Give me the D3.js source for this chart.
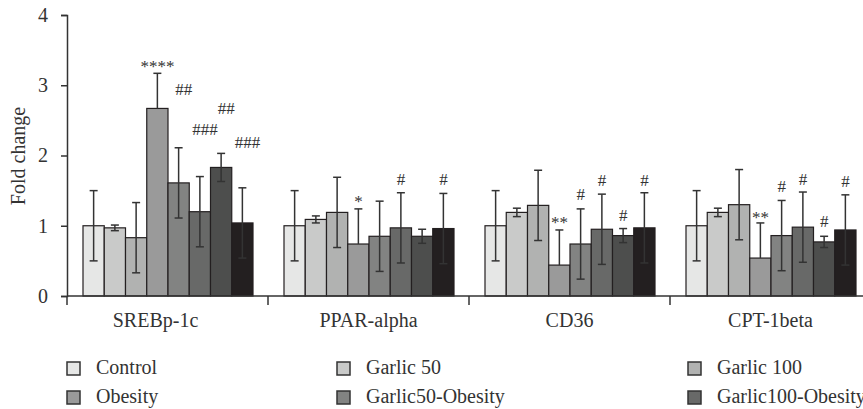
<!DOCTYPE html>
<html>
<head>
<meta charset="utf-8">
<script src="https://cdn.jsdelivr.net/npm/d3@7"></script>
<style>
  body { margin: 0; background: #fff; }
  svg { display: block; font-family: "Liberation Serif", "DejaVu Serif", serif; }
</style>
</head>
<body>
<div id="chart"></div>
<script>
// genes on the x axis
var categories = ["SREBp-1c", "PPAR-alpha", "CD36", "CPT-1beta"];

// groups (legend order)
var series = ["Control", "Garlic 50", "Garlic 100", "Obesity",
              "Garlic50-Obesity", "Garlic100-Obesity", "Garlic100-Obesity + X", "Garlic100-Obesity + Y"];
var legendNames = ["Control", "Garlic 50", "Garlic 100", "Obesity",
                   "Garlic50-Obesity", "Garlic100-Obesity", "", ""];

// fold change, one array per gene (series order)
var srebp = [1.00, 0.97, 0.83, 2.67, 1.61, 1.20, 1.83, 1.04];
var ppar  = [1.00, 1.09, 1.19, 0.74, 0.85, 0.97, 0.85, 0.96];
var cd36  = [1.00, 1.19, 1.29, 0.44, 0.74, 0.95, 0.86, 0.97];
var cpt   = [1.00, 1.19, 1.30, 0.54, 0.86, 0.98, 0.77, 0.94];

// error (SD) per bar
var srebpErr = [0.50, 0.04, 0.50, 0.50, 0.50, 0.50, 0.20, 0.50];
var pparErr  = [0.50, 0.05, 0.50, 0.50, 0.50, 0.50, 0.10, 0.50];
var cd36Err  = [0.50, 0.06, 0.50, 0.50, 0.50, 0.50, 0.10, 0.50];
var cptErr   = [0.50, 0.06, 0.50, 0.50, 0.50, 0.50, 0.08, 0.50];

// significance marks: [gene index, series index, label, y in fold change]
var marks = [
  [0, 3, "****", 3.32], [0, 4, "##", 2.95], [0, 5, "###", 2.38], [0, 6, "##", 2.68], [0, 7, "###", 2.19],
  [1, 3, "*", 1.39], [1, 5, "#", 1.66], [1, 7, "#", 1.66],
  [2, 3, "**", 1.09], [2, 4, "#", 1.45], [2, 5, "#", 1.65], [2, 6, "#", 1.15], [2, 7, "#", 1.65],
  [3, 3, "**", 1.17], [3, 4, "#", 1.56], [3, 5, "#", 1.66], [3, 6, "#", 1.07], [3, 7, "#", 1.64]
];

var yTicks = [0, 1, 2, 3, 4];

var colors = ["#e6e7e6", "#c9cac9", "#b1b2b1", "#9a9a9a", "#828382", "#686968", "#4d4e4d", "#231f20"];

var values = [srebp, ppar, cd36, cpt];
var errors = [srebpErr, pparErr, cd36Err, cptErr];

var width = 863, height = 409;
var ink = "#333";

var svg = d3.select("#chart").append("svg")
    .attr("width", width)
    .attr("height", height);

var y = d3.scaleLinear().domain([0, 4]).range([296, 15]);

var x0 = d3.scaleBand().domain(categories).range([67, 871]);
var x1 = d3.scaleBand().domain(series).range([16, x0.bandwidth() - 15]);

// rows of data
var rows = [];
categories.forEach(function(c, ci) {
  series.forEach(function(s, si) {
    rows.push({cat: c, ci: ci, s: s, si: si, v: values[ci][si], e: errors[ci][si]});
  });
});

// bars
svg.append("g").selectAll("rect")
  .data(rows)
  .enter().append("rect")
    .attr("x", function(d) { return x0(d.cat) + x1(d.s); })
    .attr("y", function(d) { return y(d.v); })
    .attr("width", x1.bandwidth())
    .attr("height", function(d) { return y(0) - y(d.v); })
    .attr("fill", function(d) { return colors[d.si]; })
    .attr("stroke", "#231f20")
    .attr("stroke-width", 1.2);

// error bars (Obesity only drawn upward)
var eb = svg.append("g").selectAll("g")
  .data(rows)
  .enter().append("g")
    .attr("transform", function(d) {
      return "translate(" + (x0(d.cat) + x1(d.s) + x1.bandwidth() / 2) + ",0)"; })
    .attr("stroke", ink)
    .attr("stroke-width", 1.5);

eb.append("line")
  .attr("y1", function(d) { return y(d.v + d.e); })
  .attr("y2", function(d) { return d.s === "Obesity" ? y(d.v) : y(d.v - d.e); });
eb.append("line")
  .attr("x1", -4).attr("x2", 4)
  .attr("y1", function(d) { return y(d.v + d.e); })
  .attr("y2", function(d) { return y(d.v + d.e); });
eb.filter(function(d) { return d.s !== "Obesity"; })
  .append("line")
  .attr("x1", -4).attr("x2", 4)
  .attr("y1", function(d) { return y(d.v - d.e); })
  .attr("y2", function(d) { return y(d.v - d.e); });

// significance labels (the multi-hash ones sit a little to the right)
svg.append("g").selectAll("text")
  .data(marks)
  .enter().append("text")
    .attr("x", function(d) {
      return x0(categories[d[0]]) + x1(series[d[1]]) + x1.bandwidth() / 2; })
    .attr("dx", function(d) { return d[2].length > 1 && d[2][0] === "#" ? 5 : 0; })
    .attr("y", function(d) { return y(d[3]) + (d[2][0] === "*" ? 9 : 6); })
    .attr("text-anchor", "middle")
    .style("font-size", "17px")
    .style("fill", ink)
    .text(function(d) { return d[2]; });

// y axis
var yAxis = svg.append("g")
  .attr("transform", "translate(67,0)")
  .call(d3.axisLeft(y).tickValues(yTicks).tickSize(6).tickPadding(13).tickFormat(d3.format("d")));
yAxis.select(".domain").attr("stroke", ink).attr("stroke-width", 1.5);
yAxis.selectAll(".tick line").attr("stroke", ink).attr("stroke-width", 1.5);
yAxis.selectAll(".tick text")
  .style("font-size", "20px")
  .style("font-family", "Liberation Serif, serif")
  .attr("fill", ink);

// x axis: baseline, ticks between genes, labels
svg.append("line")
  .attr("x1", 67).attr("x2", 871)
  .attr("y1", y(0)).attr("y2", y(0))
  .attr("stroke", ink).attr("stroke-width", 1.5);
svg.append("g").selectAll("line")
  .data(categories)
  .enter().append("line")
    .attr("x1", function(d) { return x0(d); })
    .attr("x2", function(d) { return x0(d); })
    .attr("y1", y(0)).attr("y2", y(0) + 9)
    .attr("stroke", ink).attr("stroke-width", 1.5);
svg.append("g").selectAll("text")
  .data(categories)
  .enter().append("text")
    .attr("x", function(d) { return x0(d) + x0.bandwidth() / 2; })
    .attr("dx", function(d, i) { return i === 0 ? -12 : 0; })
    .attr("y", 327)
    .attr("text-anchor", "middle")
    .style("font-size", "20px")
    .style("fill", ink)
    .text(function(d) { return d; });

// y label
svg.append("text")
  .attr("transform", "translate(25,156) rotate(-90)")
  .attr("text-anchor", "middle")
  .style("font-size", "20px")
  .style("fill", ink)
  .text("Fold change");

// legend, 3 columns
var legCols = [67, 337, 688];
var leg = svg.append("g").selectAll("g")
  .data(series)
  .enter().append("g")
    .attr("transform", function(d, i) {
      return "translate(" + legCols[i % 3] + "," + (362 + Math.floor(i / 3) * 29) + ")"; });
leg.append("rect")
  .attr("width", 13).attr("height", 13)
  .attr("fill", function(d, i) { return colors[i]; })
  .attr("stroke", ink).attr("stroke-width", 1.5);
leg.append("text")
  .attr("x", 29).attr("y", 12)
  .style("font-size", "20px")
  .style("fill", ink)
  .text(function(d, i) { return legendNames[i]; });
</script>
</body>
</html>
